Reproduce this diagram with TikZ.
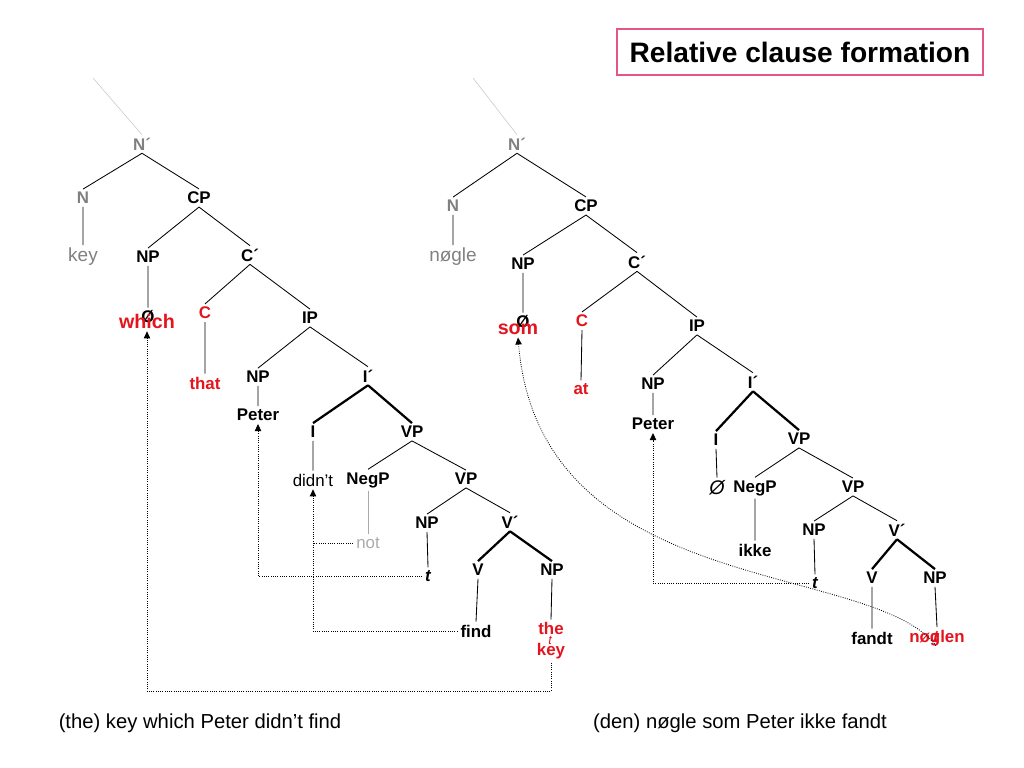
\documentclass[tikz,border=0pt]{standalone}
\usepackage{fontspec}
\setmainfont{Liberation Sans}
\usetikzlibrary{arrows.meta}
\definecolor{relred}{RGB}{228,20,30}
\definecolor{catgrey}{RGB}{128,128,128}
\definecolor{lightgrey}{RGB}{170,170,170}
\definecolor{skygrey}{RGB}{200,200,200}
\definecolor{titlepink}{RGB}{226,86,138}
\tikzset{
  cat/.style={font=\fontsize{12}{15}\selectfont\bfseries, inner sep=2pt},
  word/.style={font=\fontsize{12}{15}\selectfont, inner sep=2pt},
  greyword/.style={font=\fontsize{13.5}{16}\selectfont, text=catgrey, inner sep=2pt},
  redword/.style={cat, text=relred},
  bigred/.style={font=\fontsize{14}{16}\selectfont\bfseries, text=relred, inner sep=2pt},
  trace/.style={font=\fontsize{12}{15}\selectfont\bfseries\itshape, inner sep=2pt},
  branch/.style={line width=0.6pt},
  heavy/.style={line width=1.6pt},
  faint/.style={line width=0.4pt, skygrey},
  move/.style={densely dotted, line width=0.6pt},
  movearrow/.style={move, -{Triangle[length=5pt,width=4.5pt]}},
  gloss/.style={font=\fontsize{14.4}{17}\selectfont},
}
\begin{document}
\begin{tikzpicture}[x=0.025cm,y=-0.025cm]
\useasboundingbox (0,0) rectangle (1024,768);

\node[draw=titlepink, line width=1pt, minimum width=9.15cm, minimum height=1.15cm,
  font=\fontsize{20}{24}\selectfont\bfseries] (title) at (800,52) {Relative clause formation};

% left tree
\coordinate (skyL) at (93,78);
\node[cat,text=catgrey] (nbarL) at (142,144) {N´};
\node[cat,text=catgrey] (nL) at (83,198) {N};
\node[greyword] (keyL) at (83,257) {key};
\node[cat] (cpL) at (199,198) {CP};
\node[cat] (npaL) at (148,257) {NP};
\node[cat] (zeroL) at (148,317) {Ø};
\node[bigred] (whichL) at (147,321) {which};
\node[cat] (cbarL) at (250,255) {C´};
\node[redword] (cL) at (205,313) {C};
\node[redword] (thatL) at (205,383) {that};
\node[cat] (ipL) at (310,318) {IP};
\node[cat] (npbL) at (258,377) {NP};
\node[cat] (peterL) at (258,415) {Peter};
\node[cat] (ibarL) at (368,376) {I´};
\node[cat] (iL) at (313,432) {I};
\node[word] (didntL) at (313,480) {didn’t};
\node[cat] (vpaL) at (412,432) {VP};
\node[cat] (negL) at (368,480) {NegP};
\node[word,text=lightgrey] (notL) at (368,543) {not};
\node[cat] (vpbL) at (466,479) {VP};
\node[cat] (npcL) at (427,523) {NP};
\node[trace] (tL) at (428,576) {t};
\node[cat] (vbarL) at (510,522) {V´};
\node[cat] (vL) at (478,570) {V};
\node[cat] (findL) at (476,631) {find};
\node[cat] (npdL) at (552,570) {NP};
\node[trace,text=relred,font=\fontsize{9}{10}\selectfont\itshape] (tkL) at (550,640) {t};
\node[redword,align=center] (thekeyL) at (551,641) {the\\key};

\draw[faint] (skyL) -- (nbarL.north);
\draw[branch] (nbarL.south) -- (nL.north)
  (nbarL.south) -- (cpL.north)
  (nL.south) -- (keyL.north)
  (cpL.south) -- (npaL.north)
  (cpL.south) -- (cbarL.north)
  (npaL.south) -- (zeroL.north)
  (cbarL.south) -- (cL.north)
  (cbarL.south) -- (ipL.north)
  (cL.south) -- (thatL.north)
  (ipL.south) -- (npbL.north)
  (ipL.south) -- (ibarL.north)
  (npbL.south) -- (peterL.north)
  (iL.south) -- (didntL.north)
  (vpaL.south) -- (negL.north)
  (vpaL.south) -- (vpbL.north)
  (vpbL.south) -- (npcL.north)
  (vpbL.south) -- (vbarL.north)
  (npcL.south) -- (tL.north)
  (vL.south) -- (findL.north)
  (npdL.south) -- (thekeyL.north);
\draw[branch,lightgrey] (negL.south) -- (notL.north);
\draw[heavy] (ibarL.south) -- (iL.north)
  (ibarL.south) -- (vpaL.north)
  (vbarL.south) -- (vL.north)
  (vbarL.south) -- (npdL.north);

\coordinate (loopL) at (147,691);
\draw[movearrow] (thekeyL.south) |- (loopL) -- (whichL.south);
\draw[movearrow] (tL.west) -| (peterL.south);
\draw[movearrow] (findL.west) -| (didntL.south);
\draw[move] (notL.west) -- (notL.west -| didntL.south);

% right tree
\coordinate (skyR) at (473,78);
\node[cat,text=catgrey] (nbarR) at (517,144) {N´};
\node[cat,text=catgrey] (nR) at (453,206) {N};
\node[greyword] (nogleR) at (453,257) {nøgle};
\node[cat] (cpR) at (586,206) {CP};
\node[cat] (npaR) at (523,264) {NP};
\node[cat] (zeroR) at (523,322) {Ø};
\node[bigred] (somR) at (518,329) {som};
\node[cat] (cbarR) at (637,262) {C´};
\node[redword] (cR) at (582,321) {C};
\node[redword] (atR) at (581,389) {at};
\node[cat] (ipR) at (697,326) {IP};
\node[cat] (npbR) at (653,384) {NP};
\node[cat] (peterR) at (653,424) {Peter};
\node[cat] (ibarR) at (753,382) {I´};
\node[cat] (iR) at (716,440) {I};
\node[word,font=\fontsize{14}{16}\selectfont\itshape] (zeroIR) at (717,488) {Ø};
\node[cat] (vpaR) at (799,439) {VP};
\node[cat] (negR) at (755,488) {NegP};
\node[cat] (ikkeR) at (755,550) {ikke};
\node[cat] (vpbR) at (853,487) {VP};
\node[cat] (npcR) at (814,530) {NP};
\node[trace] (tR) at (815,583) {t};
\node[cat] (vbarR) at (897,530) {V´};
\node[cat] (vR) at (872,578) {V};
\node[cat] (npdR) at (935,578) {NP};
\node[cat] (fandtR) at (872,638) {fandt};
\node[trace,text=relred] (tnR) at (936,637) {t};
\node[redword] (noglenR) at (937,638) {nøglen};

\draw[faint] (skyR) -- (nbarR.north);
\draw[branch] (nbarR.south) -- (nR.north)
  (nbarR.south) -- (cpR.north)
  (nR.south) -- (nogleR.north)
  (cpR.south) -- (npaR.north)
  (cpR.south) -- (cbarR.north)
  (npaR.south) -- (zeroR.north)
  (cbarR.south) -- (cR.north)
  (cbarR.south) -- (ipR.north)
  (cR.south) -- (atR.north)
  (ipR.south) -- (npbR.north)
  (ipR.south) -- (ibarR.north)
  (npbR.south) -- (peterR.north)
  (iR.south) -- (zeroIR.north)
  (vpaR.south) -- (negR.north)
  (vpaR.south) -- (vpbR.north)
  (negR.south) -- (ikkeR.north)
  (vpbR.south) -- (npcR.north)
  (vpbR.south) -- (vbarR.north)
  (npcR.south) -- (tR.north)
  (vR.south) -- (fandtR.north)
  (npdR.south) -- (noglenR.north);
\draw[heavy] (ibarR.south) -- (iR.north)
  (ibarR.south) -- (vpaR.north)
  (vbarR.south) -- (vR.north)
  (vbarR.south) -- (npdR.north);

\draw[movearrow] (tR.west) -| (peterR.south);
\draw[movearrow] (tnR.south) .. controls (870,560) and (540,600) .. (somR.south);

\node[gloss] (glossL) at (200,723) {(the) key which Peter didn’t find};
\node[gloss] (glossR) at (740,723) {(den) nøgle som Peter ikke fandt};
\end{tikzpicture}
\end{document}
